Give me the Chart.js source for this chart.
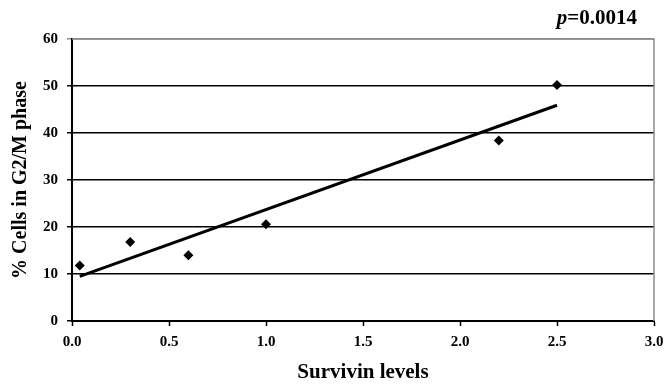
<!DOCTYPE html>
<html>
<head>
<meta charset="utf-8">
<script src="https://cdn.jsdelivr.net/npm/chart.js@4"></script>
<style>
  html, body { margin: 0; padding: 0; background: #fff; }
  #wrap { width: 667px; height: 385px; }
</style>
</head>
<body>
<div id="wrap"><canvas id="sChart"></canvas></div>
<script>
// survivin level vs % of cells in G2/M
const survivin = [0.04, 0.3, 0.6, 1.0, 2.2, 2.5];
const g2m = [11.8, 16.8, 14.0, 20.6, 38.4, 50.2];
// linear trend line, end points
const trendX = [0.04, 2.5];
const trendY = [9.5, 45.9];
const pText = '=0.0014';

const serif = "'Liberation Serif', 'Times New Roman', serif";

const pValue = {
  id: 'pValue',
  afterDraw(chart) {
    const ctx = chart.ctx;
    const a = chart.chartArea;
    ctx.save();
    ctx.fillStyle = '#000';
    ctx.textBaseline = 'alphabetic';
    ctx.font = 'bold 21px ' + serif;
    const w = ctx.measureText(pText).width;
    const xEnd = a.right - 17;
    ctx.fillText(pText, xEnd - w, a.top - 15);
    ctx.font = 'italic bold 21px ' + serif;
    const pw = ctx.measureText('p').width;
    ctx.fillText('p', xEnd - w - pw, a.top - 15);
    ctx.restore();
  }
};

const boxBorder = {
  id: 'boxBorder',
  beforeDatasetsDraw(chart) {
    const ctx = chart.ctx;
    const a = chart.chartArea;
    ctx.save();
    ctx.strokeStyle = '#8c8c8c';
    ctx.lineWidth = 1.5;
    ctx.beginPath();
    ctx.moveTo(a.left, a.top);
    ctx.lineTo(a.right, a.top);
    ctx.lineTo(a.right, a.bottom);
    ctx.stroke();
    ctx.restore();
  }
};

const data = {
  datasets: [{
    type: 'scatter',
    label: 'G2/M',
    data: survivin.map((x, i) => ({x: x, y: g2m[i]})),
    pointStyle: 'rectRot',
    pointRadius: 5,
    backgroundColor: '#000',
    borderColor: '#000',
    borderWidth: 0,
    order: 1
  }, {
    type: 'line',
    label: 'trend',
    data: trendX.map((x, i) => ({x: x, y: trendY[i]})),
    borderColor: '#000',
    borderWidth: 3,
    pointRadius: 0,
    fill: false,
    order: 2
  }]
};

const config = {
  data: data,
  options: {
    responsive: true,
    maintainAspectRatio: false,
    animation: false,
    layout: { padding: { top: 39, right: 13, left: 0, bottom: 0 } },
    plugins: {
      legend: { display: false },
      tooltip: { enabled: false }
    },
    scales: {
      x: {
        type: 'linear',
        min: 0, max: 3,
        ticks: {
          stepSize: 0.5,
          color: '#000',
          padding: 7,
          font: { family: serif, size: 15, weight: 'bold' },
          callback: v => v.toFixed(1)
        },
        grid: { drawOnChartArea: false, color: '#000', tickLength: 5, tickWidth: 1.5 },
        border: { color: '#000', width: 2 },
        title: {
          display: true,
          text: 'Survivin levels',
          color: '#000',
          padding: { top: 0, bottom: 0 },
          font: { family: serif, size: 21, weight: 'bold' }
        },
        afterFit: s => { s.height = 64; s.paddingRight = 0; s.paddingLeft = 0; }
      },
      y: {
        min: 0, max: 60,
        ticks: {
          stepSize: 10,
          color: '#000',
          padding: 9,
          font: { family: serif, size: 15, weight: 'bold' }
        },
        grid: {
          color: c => c.tick && c.tick.value === 60 ? '#8c8c8c' : '#000',
          lineWidth: 1.5,
          tickLength: 5
        },
        border: { color: '#000', width: 2 },
        title: {
          display: true,
          text: '% Cells in G2/M phase',
          color: '#000',
          padding: { top: 9, bottom: 0 },
          font: { family: serif, size: 20, weight: 'bold' }
        },
        afterFit: s => { s.width = 72; }
      }
    }
  },
  plugins: [boxBorder, pValue]
};

const sChart = new Chart(document.getElementById('sChart'), config);
</script>
</body>
</html>
